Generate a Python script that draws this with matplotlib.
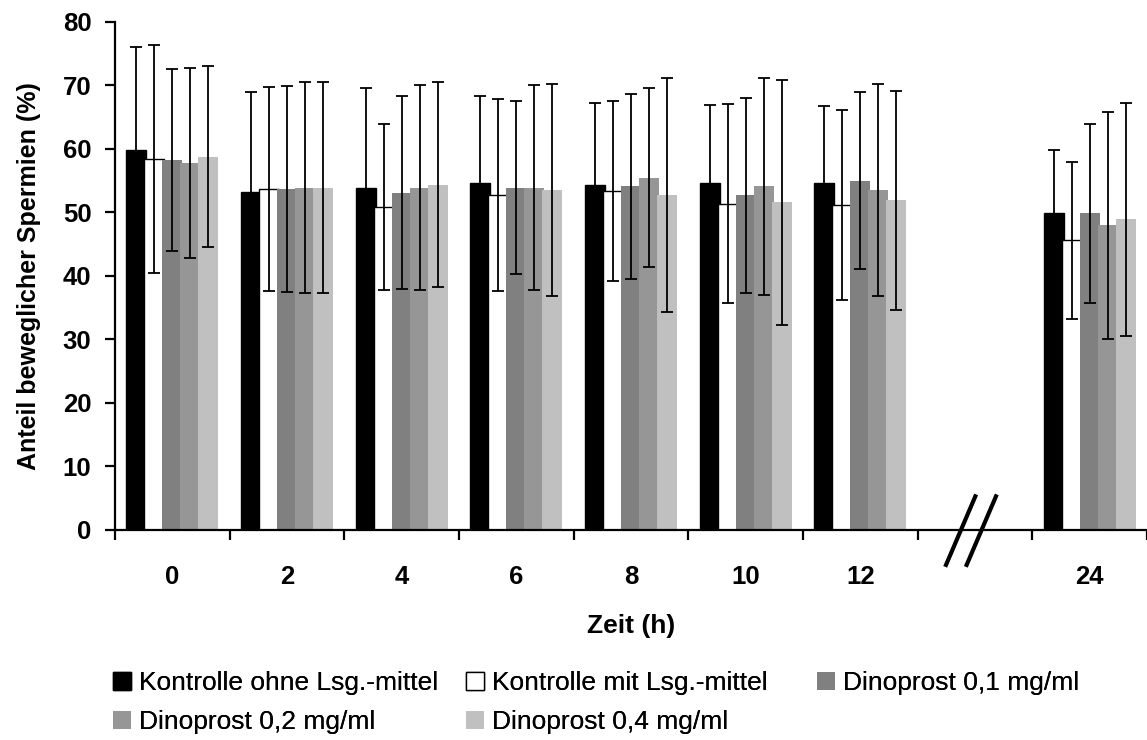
import numpy as np
import matplotlib
import matplotlib.pyplot as plt

matplotlib.use('Agg')
plt.rcParams['font.family'] = ['Liberation Sans', 'DejaVu Sans']

zeit = ['0', '2', '4', '6', '8', '10', '12', '24']
pos = [0, 1, 2, 3, 4, 5, 6, 8]   # slot 7 is the axis break

serien = ['Kontrolle ohne Lsg.-mittel', 'Kontrolle mit Lsg.-mittel',
          'Dinoprost 0,1 mg/ml', 'Dinoprost 0,2 mg/ml', 'Dinoprost 0,4 mg/ml']

k_ohne = [59.9, 53.3, 53.9, 54.7, 54.4, 54.7, 54.7, 49.9]
k_mit = [58.4, 53.7, 50.9, 52.8, 53.4, 51.4, 51.2, 45.6]
d01 = [58.3, 53.7, 53.1, 53.9, 54.1, 52.7, 55.0, 49.9]
d02 = [57.8, 53.9, 53.9, 53.9, 55.5, 54.1, 53.6, 48.0]
d04 = [58.8, 53.9, 54.4, 53.6, 52.7, 51.6, 51.9, 48.9]

sd_k_ohne = [16.2, 15.7, 15.7, 13.7, 12.9, 12.3, 12.1, 9.9]
sd_k_mit = [18.0, 16.0, 13.1, 15.1, 14.2, 15.7, 15.0, 12.4]
sd_d01 = [14.3, 16.2, 15.2, 13.6, 14.5, 15.4, 13.9, 14.1]
sd_d02 = [14.9, 16.6, 16.1, 16.1, 14.1, 17.1, 16.7, 17.9]
sd_d04 = [14.2, 16.6, 16.2, 16.7, 18.4, 19.3, 17.3, 18.3]

werte = [k_ohne, k_mit, d01, d02, d04]
sds = [sd_k_ohne, sd_k_mit, sd_d01, sd_d02, sd_d04]
farben = ['#000000', '#ffffff', '#808080', '#969696', '#c0c0c0']
kanten = ['#000000', '#000000', 'none', 'none', 'none']

fig = plt.figure(figsize=(11.47, 7.40), dpi=100)
ax = fig.add_axes([0.1003, 0.2838, 0.8997, 0.6865])

x = np.array(pos, dtype=float)
step = 0.157
width = 0.175
handles = []
for i in range(5):
    xs = x + (i - 2) * step
    b = ax.bar(xs, werte[i], width=width, color=farben[i],
               edgecolor=kanten[i], linewidth=1.0, zorder=2, label=serien[i])
    handles.append(b)
for i in range(5):
    xs = x + (i - 2) * step
    ax.errorbar(xs, werte[i], yerr=sds[i], fmt='none', ecolor='black',
                elinewidth=1.3, capsize=4.6, capthick=1.3, zorder=3)

ax.set_xlim(-0.5, 8.5)
ax.set_ylim(0, 80)
ax.set_yticks(range(0, 81, 10))
ax.set_xticks(pos)
ax.set_xticklabels(zeit)
ax.set_xticks(np.arange(-0.5, 8.6, 1), minor=True)
ax.tick_params(axis='x', which='major', length=0, pad=25)
ax.tick_params(axis='x', which='minor', length=7, width=1.6, direction='out')
ax.tick_params(axis='y', length=7, width=1.6, direction='out', pad=10)
for lab in ax.get_xticklabels() + ax.get_yticklabels():
    lab.set_fontsize(18.5)
    lab.set_fontweight('bold')

ax.spines['top'].set_visible(False)
ax.spines['right'].set_visible(False)
ax.spines['left'].set_linewidth(1.6)
ax.spines['bottom'].set_linewidth(1.6)

# axis break marks in the empty slot
gap = 7
for dx in (-0.26, -0.08):
    ax.plot([gap + dx, gap + dx + 0.27], [-5.8, 5.6], color='black',
            lw=3, clip_on=False, zorder=4, solid_capstyle='butt')

ax.set_xlabel('Zeit (h)', fontsize=19, fontweight='bold', labelpad=18)
ax.set_ylabel('Anteil beweglicher Spermien (%)', fontsize=18,
              fontweight='bold', labelpad=16)

# legend: three fixed-width columns, filled row by row
spalten = [[0, 3], [1, 4], [2]]
spalten_x = [0.0985, 0.4063, 0.7123]
for k, idx in enumerate(spalten):
    leg = fig.legend([handles[j] for j in idx], [serien[j] for j in idx],
                     loc='upper left', bbox_to_anchor=(spalten_x[k], 0.0932),
                     frameon=False, fontsize=19, handlelength=0.68,
                     handleheight=0.68, handletextpad=0.3,
                     labelspacing=0.57, borderaxespad=0, borderpad=0)
    fig.add_artist(leg)

fig.savefig('out.png', dpi=100)
